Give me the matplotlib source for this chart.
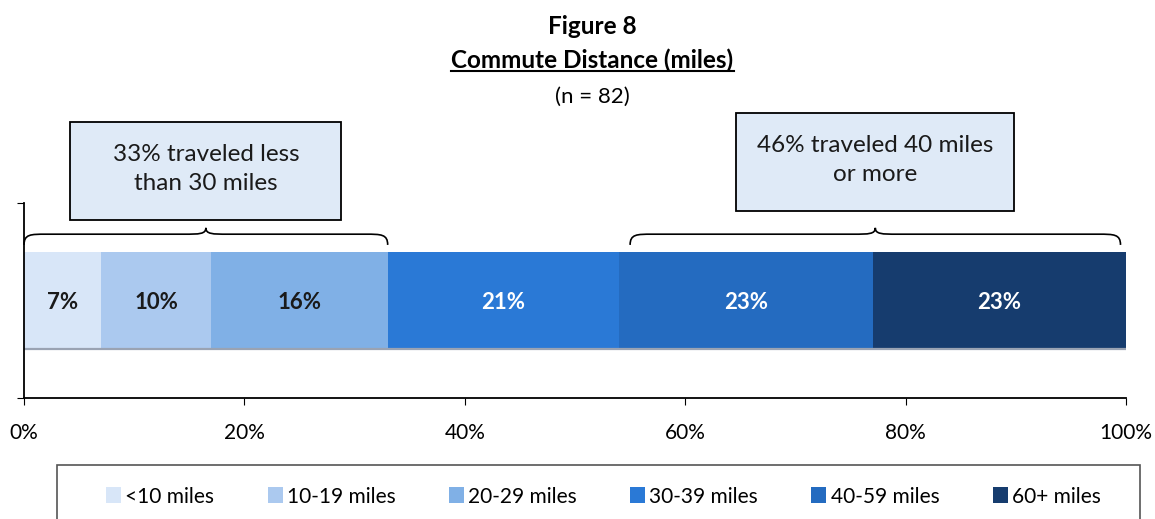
import matplotlib.pyplot as plt
import numpy as np
from matplotlib.path import Path
from matplotlib.patches import PathPatch, Rectangle

plt.rcParams['font.family'] = ['Lato', 'DejaVu Sans']

# data
categories = ['<10 miles', '10-19 miles', '20-29 miles', '30-39 miles', '40-59 miles', '60+ miles']
shares = [7, 10, 16, 21, 23, 23]
colors = ['#d8e6f8', '#abc9ef', '#80b0e6', '#2a79d6', '#246bc0', '#163c6e']
label_colors = ['#1a1a1a', '#1a1a1a', '#1a1a1a', 'white', 'white', 'white']
callouts = ['33% traveled less\nthan 30 miles', '46% traveled 40 miles\nor more']
n_resp = 82

fig = plt.figure(figsize=(11.55, 5.19), dpi=100)
ax = fig.add_axes([0.0208, 0.2331, 0.9541, 0.3758])

left = 0
for cat, val, col, lc in zip(categories, shares, colors, label_colors):
    ax.barh(0, val, left=left, height=1.0, color=col, label=cat, edgecolor='none')
    ax.text(left + val / 2, -0.02, f'{val}%', ha='center', va='center',
            fontsize=16, fontweight='bold', color=lc)
    left += val
# thin shadow line at bar bottom
ax.hlines(-0.5, 0, 100, color='#9aa3b3', lw=1.6)

ax.set_xlim(0, 100)
ax.set_ylim(-1, 1)
ax.set_xticks(np.arange(0, 101, 20))
ax.set_xticklabels([f'{t}%' for t in range(0, 101, 20)])
ax.set_yticks([-1, 1])
ax.set_yticklabels([])
ax.tick_params(axis='x', labelsize=15, length=5, pad=13)
ax.tick_params(axis='y', length=5)
for s in ['top', 'right']:
    ax.spines[s].set_visible(False)
for s in ['left', 'bottom']:
    ax.spines[s].set_linewidth(1.3)


def brace(ax, x0, x1, yb=0.57, ym=0.68, yt=0.745, dx=2.0):
    xm = (x0 + x1) / 2
    verts = [(x0, yb), (x0, ym), (x0 + dx * 0.3, ym), (x0 + dx, ym),
             (xm - dx, ym),
             (xm - dx * 0.3, ym), (xm, ym), (xm, yt),
             (xm, ym), (xm + dx * 0.3, ym), (xm + dx, ym),
             (x1 - dx, ym),
             (x1 - dx * 0.3, ym), (x1, ym), (x1, yb)]
    codes = [Path.MOVETO, Path.CURVE4, Path.CURVE4, Path.CURVE4,
             Path.LINETO,
             Path.CURVE4, Path.CURVE4, Path.CURVE4,
             Path.CURVE4, Path.CURVE4, Path.CURVE4,
             Path.LINETO,
             Path.CURVE4, Path.CURVE4, Path.CURVE4]
    ax.add_patch(PathPatch(Path(verts, codes), fill=False, lw=1.2,
                           edgecolor='black', clip_on=False))
    return xm


cum = np.cumsum(shares)
m1 = brace(ax, 0, cum[2])
m2 = brace(ax, cum[3] + 1, 99.5)

# callout boxes
for xm, txt, yc, w in [(m1, callouts[0], 1.33, 24.6), (m2, callouts[1], 1.42, 25.2)]:
    ax.add_patch(Rectangle((xm - w / 2, yc - 0.5), w, 1.0, facecolor='#dfeaf7',
                           edgecolor='black', lw=1.3, clip_on=False))
    ax.text(xm, yc + 0.02, txt, ha='center', va='center', fontsize=17.5,
            linespacing=1.5, color='#1a1a1a')

# titles
fig.text(0.513, 0.948, 'Figure 8', ha='center', va='center', fontsize=17.5, fontweight='bold')
t = fig.text(0.513, 0.884, 'Commute Distance (miles)', ha='center', va='center',
             fontsize=17.5, fontweight='bold')
fig.canvas.draw()
bb = t.get_window_extent().transformed(fig.transFigure.inverted())
fig.add_artist(plt.Line2D([bb.x0, bb.x1], [bb.y0 + 0.002, bb.y0 + 0.002], color='black', lw=1.5))
fig.text(0.513, 0.813, f'(n = {n_resp})', ha='center', va='center', fontsize=16)

# legend frame (runs off the bottom of the figure)
fig.add_artist(Rectangle((0.0494, -0.1), 0.9377, 0.204, transform=fig.transFigure,
                         facecolor='none', edgecolor='#555555', lw=1.2, clip_on=False))
leg = fig.legend(loc='center', bbox_to_anchor=(0.5225, 0.043), ncol=6, fontsize=15,
                 frameon=False, handlelength=0.72, handleheight=0.8, handletextpad=0.2,
                 columnspacing=2.56, borderpad=0)

fig.savefig('out.png', dpi=100)
